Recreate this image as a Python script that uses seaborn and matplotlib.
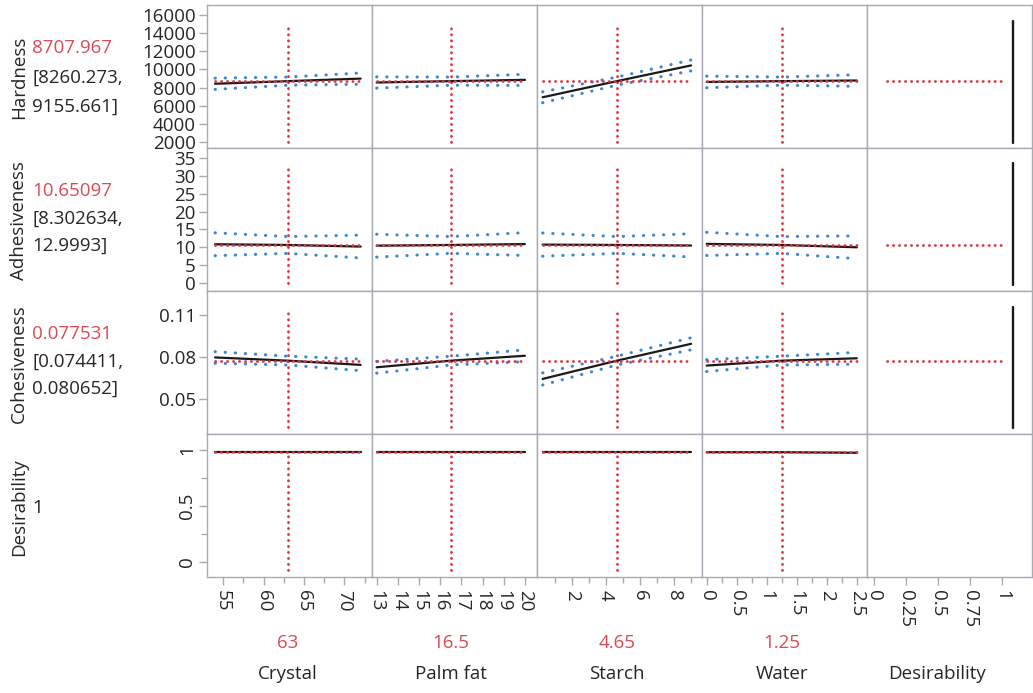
import matplotlib
matplotlib.use("Agg")
import matplotlib.pyplot as plt
import seaborn as sns
import numpy as np

# factors (x axes)
factors = ["Crystal", "Palm fat", "Starch", "Water"]
factor_lo = [54, 13, 0.3, 0]
factor_hi = [72, 20, 9.0, 2.5]
factor_now = [63, 16.5, 4.65, 1.25]
factor_now_txt = ["63", "16.5", "4.65", "1.25"]
factor_ticks = [[55, 60, 65, 70], [13, 14, 15, 16, 17, 18, 19, 20],
                [2, 4, 6, 8], [0, 0.5, 1, 1.5, 2, 2.5]]
factor_ticklabels = [["55", "60", "65", "70"],
                     ["13", "14", "15", "16", "17", "18", "19", "20"],
                     ["2", "4", "6", "8"],
                     ["0", "0.5", "1", "1.5", "2", "2.5"]]
desir_ticks = [0, 0.25, 0.5, 0.75, 1]
desir_ticklabels = ["0", "0.25", "0.5", "0.75", "1"]

# responses (y axes)
responses = ["Hardness", "Adhesiveness", "Cohesiveness", "Desirability"]
resp_now = [8707.967, 10.65097, 0.077531, 0.985]
resp_now_txt = ["8707.967", "10.65097", "0.077531", "1"]
resp_ci_txt = [["[8260.273,", "9155.661]"], ["[8.302634,", "12.9993]"],
               ["[0.074411,", "0.080652]"], None]
resp_ticks = [[2000, 4000, 6000, 8000, 10000, 12000, 14000, 16000],
              [0, 5, 10, 15, 20, 25, 30, 35],
              [0.05, 0.08, 0.11],
              [0, 0.5, 1]]
resp_ticklabels = [["2000", "4000", "6000", "8000", "10000", "12000", "14000", "16000"],
                   ["0", "5", "10", "15", "20", "25", "30", "35"],
                   ["0.05", "0.08", "0.11"],
                   ["0", "0.5", "1"]]

# predicted profile at (low, current, high) of each factor
hard_pred = [[8420, 8708, 8990], [8560, 8708, 8850], [6930, 8708, 10440], [8620, 8708, 8780]]
hard_lower = [[7800, 8260, 8370], [7940, 8260, 8230], [6330, 8260, 9840], [7980, 8260, 8140]]
hard_upper = [[9040, 9156, 9610], [9180, 9156, 9470], [7530, 9156, 11040], [9260, 9156, 9420]]

adh_pred = [[10.85, 10.65, 10.2], [10.45, 10.65, 10.9], [10.75, 10.65, 10.5], [10.95, 10.65, 10.0]]
adh_lower = [[7.65, 8.30, 7.0], [7.25, 8.30, 7.7], [7.5, 8.30, 7.3], [7.7, 8.30, 6.8]]
adh_upper = [[14.05, 13.0, 13.4], [13.65, 13.0, 14.1], [14.0, 13.0, 13.8], [14.2, 13.0, 13.2]]

coh_pred = [[0.0798, 0.0775, 0.0745], [0.0728, 0.0775, 0.0810],
            [0.0645, 0.0775, 0.0895], [0.0740, 0.0775, 0.0792]]
coh_lower = [[0.0757, 0.0744, 0.0704], [0.0686, 0.0744, 0.0768],
             [0.0602, 0.0744, 0.0852], [0.0698, 0.0744, 0.0750]]
coh_upper = [[0.0839, 0.0807, 0.0786], [0.0770, 0.0807, 0.0852],
             [0.0688, 0.0807, 0.0938], [0.0782, 0.0807, 0.0834]]

des_pred = [[0.98, 0.98, 0.98], [0.98, 0.98, 0.98], [0.98, 0.98, 0.98], [0.98, 0.98, 0.975]]

preds = [hard_pred, adh_pred, coh_pred, des_pred]
lowers = [hard_lower, adh_lower, coh_lower, None]
uppers = [hard_upper, adh_upper, coh_upper, None]

# extent of the red crosshair and of the desirability function line
cross_span = [[2030, 15100], [0, 33], [0.030, 0.115], [-0.075, 0.98]]
desir_line_x = 1.08
desir_line_span = [[1920, 15370], [-0.5, 33.5], [0.0295, 0.1156]]
desir_red_x = [0.10, 1.03]

# axis limits
x_lims = [(53.0, 73.4), (12.78, 20.57), (-0.03, 9.64), (-0.078, 2.67), (-0.054, 1.23)]
y_lims = [(1340, 17100), (-2.24, 37.8), (0.0253, 0.1271), (-0.137, 1.143)]

sns.set_style("white")
plt.rcParams["font.family"] = ["Open Sans", "DejaVu Sans"]

W, H = 1033, 693
fig = plt.figure(figsize=(W / 100, H / 100), dpi=100)
col_edges = [207, 372, 537, 702, 867, 1032]
row_edges = [5, 148, 291, 434, 577]

RED = "#e0353f"
RED_TXT = "#d94a55"
BLUE = "#3b86d2"
GRID = "#a9a9b5"
FS = 13.5
RED_DOT = (0, (0.1, 2.05))
BLUE_DOT = (0, (0.1, 3.2))

for r in range(4):
    for c in range(5):
        x0, x1 = col_edges[c], col_edges[c + 1]
        y0, y1 = row_edges[r], row_edges[r + 1]
        ax = fig.add_axes([x0 / W, 1 - y1 / H, (x1 - x0) / W, (y1 - y0) / H])
        ax.set_xlim(*x_lims[c])
        ax.set_ylim(*y_lims[r])
        for s in ax.spines.values():
            s.set_color(GRID)
            s.set_linewidth(1)
        ax.set_xticks([])
        ax.set_yticks([])

        if c < 4:
            xs = [factor_lo[c], factor_now[c], factor_hi[c]]
            # red crosshair
            ax.plot([factor_now[c]] * 2, cross_span[r], color=RED, lw=2.0,
                    linestyle=RED_DOT, dash_capstyle="round")
            ax.plot([factor_lo[c], factor_hi[c]], [resp_now[r]] * 2, color=RED, lw=2.0,
                    linestyle=RED_DOT, dash_capstyle="round", zorder=4)
            if lowers[r] is not None:
                for band in (lowers[r][c], uppers[r][c]):
                    sns.lineplot(x=xs, y=band, ax=ax, color=BLUE, lw=2.2,
                                 linestyle=BLUE_DOT, dash_capstyle="round")
            sns.lineplot(x=xs, y=preds[r][c], ax=ax, color="#1a1a1a", lw=1.6, zorder=3)
        elif r < 3:
            ax.plot([desir_line_x] * 2, desir_line_span[r], color="#1a1a1a", lw=1.7)
            ax.plot(desir_red_x, [resp_now[r]] * 2, color=RED, lw=2.0,
                    linestyle=RED_DOT, dash_capstyle="round")

        if c == 0:
            ax.set_yticks(resp_ticks[r])
            ax.set_yticklabels(resp_ticklabels[r], fontsize=FS)
            if r == 3:
                ax.set_yticks([0.25, 0.75], minor=True)
                ax.set_yticklabels(resp_ticklabels[r], fontsize=FS, rotation=90, va="center")
            ax.tick_params(axis="y", which="both", direction="out", length=6, width=1,
                           color=GRID, pad=2, left=True)
            ax.tick_params(axis="y", which="minor", length=4)
        if r == 3:
            if c < 4:
                ax.set_xticks(factor_ticks[c])
                ax.set_xticklabels(factor_ticklabels[c], fontsize=FS, rotation=-90)
            else:
                ax.set_xticks(desir_ticks)
                ax.set_xticklabels(desir_ticklabels, fontsize=FS, rotation=-90)
            if c == 0:
                ax.set_xticks([57.5, 62.5, 67.5, 72.5], minor=True)
            elif c == 2:
                ax.set_xticks([1, 3, 5, 7, 9], minor=True)
            elif c == 3:
                ax.set_xticks([0.25, 0.75, 1.25, 1.75, 2.25], minor=True)
            ax.tick_params(axis="x", which="both", direction="out", length=6, width=1,
                           color=GRID, pad=3, bottom=True)
            ax.tick_params(axis="x", which="minor", length=4)
        ax.set_xlabel("")
        ax.set_ylabel("")

# left side: response names, current values and intervals
name_y = [77, 221, 364, 507]
val_y = [48, 191, 334, 508]
ci_y = [[78, 107], [219, 246], [362, 389]]
for r in range(4):
    fig.text(19 / W, 1 - name_y[r] / H, responses[r], rotation=90, ha="center",
             va="center", fontsize=FS)
    fig.text(32 / W, 1 - val_y[r] / H, resp_now_txt[r], ha="left", va="center",
             fontsize=FS, color=RED_TXT if r < 3 else "#222222")
    if resp_ci_txt[r] is not None:
        for t, yy in zip(resp_ci_txt[r], ci_y[r]):
            fig.text(32 / W, 1 - yy / H, t, ha="left", va="center", fontsize=FS)

# bottom: current factor settings and factor names
for c in range(4):
    xpix = col_edges[c] + (factor_now[c] - x_lims[c][0]) / (x_lims[c][1] - x_lims[c][0]) * 165
    fig.text(xpix / W, 1 - 643 / H, factor_now_txt[c], ha="center", va="center",
             fontsize=FS, color=RED_TXT)
    fig.text(xpix / W, 1 - 674 / H, factors[c], ha="center", va="center", fontsize=FS)
fig.text(937 / W, 1 - 674 / H, "Desirability", ha="center", va="center", fontsize=FS)

fig.savefig("out.png", dpi=100, facecolor="white")
